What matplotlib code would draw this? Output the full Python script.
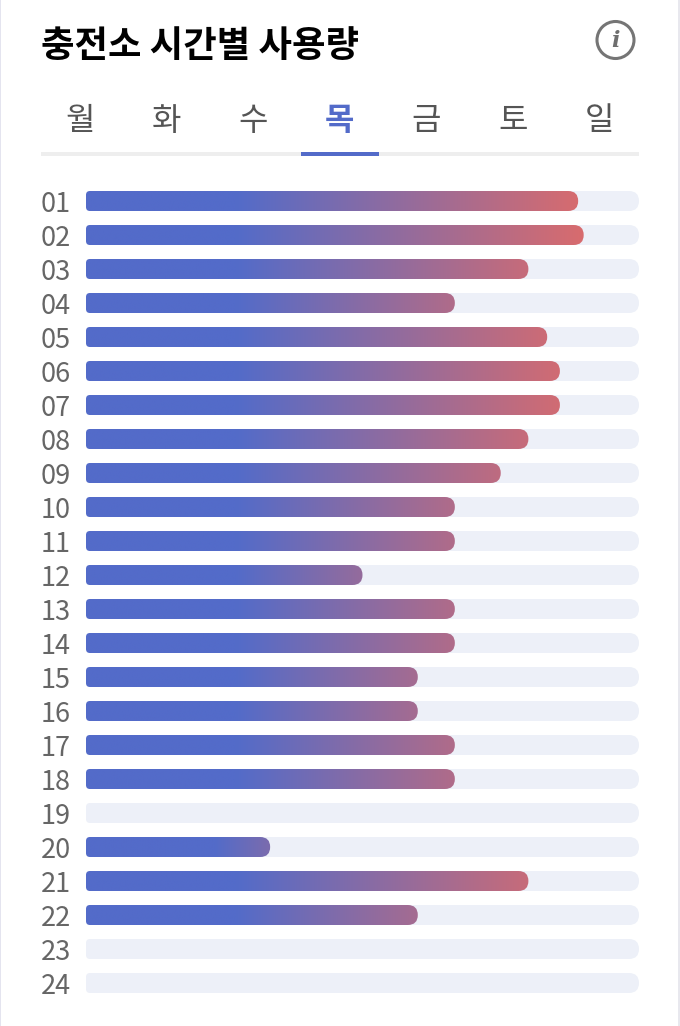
import numpy as np
from matplotlib import pyplot as plt
from matplotlib.path import Path
from matplotlib.patches import PathPatch, Circle, Rectangle
from matplotlib.colors import LinearSegmentedColormap

plt.rcParams['font.family'] = ['Noto Sans CJK KR', 'DejaVu Sans']

hours = ['01', '02', '03', '04', '05', '06', '07', '08', '09', '10', '11', '12',
         '13', '14', '15', '16', '17', '18', '19', '20', '21', '22', '23', '24']
usage = [89, 90, 80, 66.7, 83.4, 85.7, 85.7, 80, 75, 66.7, 66.7, 50,
         66.7, 66.7, 60, 60, 66.7, 66.7, 0, 33.3, 80, 60, 0, 0]
days = ['월', '화', '수', '목', '금', '토', '일']
selected_day = '목'
title = '충전소 시간별 사용량'

BLUE = np.array([0x53, 0x6b, 0xc9]) / 255
RED = np.array([0xd8, 0x6c, 0x6e]) / 255
TRACK = '#edf0f8'

W, H = 680, 1026
fig = plt.figure(figsize=(W / 100, H / 100), dpi=100)

# page overlay in pixel coords for the card, title and tabs
page = fig.add_axes([0, 0, 1, 1])
page.set_xlim(0, W)
page.set_ylim(H, 0)
page.axis('off')
page.add_patch(Rectangle((0, 0), 1, H, color='#e4e4ef', lw=0))
page.add_patch(Rectangle((678, 0), 2, H, color='#e8e8ee', lw=0))

page.text(41, 47, title, fontsize=26.2, fontweight='bold', color='black', va='center', ha='left')

# info icon
page.add_patch(Circle((615.5, 40), 18.5, fc='none', ec='#757575', lw=2.2))
page.text(615.5, 41, 'i', fontsize=16, family='DejaVu Serif', style='italic', fontweight='bold',
          color='#6e6e6e', ha='center', va='center')

# day tabs
page.add_patch(Rectangle((41, 152), 598, 4, color='#eeeeee', lw=0))
for i, d in enumerate(days):
    cx = 80 + i * 86.6
    on = d == selected_day
    page.text(cx, 121, d, fontsize=23, color='#536bc9' if on else '#555555',
              fontweight='bold' if on else 'normal', ha='center', va='center')
    if on:
        page.add_patch(Rectangle((301, 152), 78, 4, color='#536bc9', lw=0))

# bars
left, right, top, pitch = 86, 639, 184, 34
ax = fig.add_axes([left / W, 1 - (top + 24 * pitch) / H, (right - left) / W, 24 * pitch / H])
ax.set_xlim(0, 100)
ax.set_ylim(23.5, -0.5)
ax.axis('off')
ax.patch.set_alpha(0)

px = 100 / (right - left)
py = 1 / pitch
bar_h = 20 * py


def bar_path(y, val, r_left=4, r_right=10):
    x0, x1 = 0, val
    y0, y1 = y - bar_h / 2, y + bar_h / 2
    lx, ly = r_left * px, r_left * py
    rx, ry = r_right * px, r_right * py
    verts = [(x0 + lx, y0), (x1 - rx, y0), (x1, y0), (x1, y0 + ry), (x1, y1 - ry), (x1, y1), (x1 - rx, y1),
             (x0 + lx, y1), (x0, y1), (x0, y1 - ly), (x0, y0 + ly), (x0, y0), (x0 + lx, y0), (x0 + lx, y0)]
    codes = [Path.MOVETO, Path.LINETO, Path.CURVE3, Path.CURVE3, Path.LINETO, Path.CURVE3, Path.CURVE3,
             Path.LINETO, Path.CURVE3, Path.CURVE3, Path.LINETO, Path.CURVE3, Path.CURVE3, Path.CLOSEPOLY]
    return Path(verts, codes)


for i, (hour, val) in enumerate(zip(hours, usage)):
    ax.add_patch(PathPatch(bar_path(i, 100), fc=TRACK, ec='none', zorder=1))
    page.text(56, top + pitch * i + 20.5, hour, fontsize=19.5, color='#666666', ha='center', va='center')
    if val == 0:
        continue
    # end colour depends on how full the bar is; blue holds for about the first 150px
    end = BLUE + (RED - BLUE) * min((val / 90) ** 1.2, 1)
    hold = min(0.7, 150 * px / val)
    cmap = LinearSegmentedColormap.from_list('g', [(0, BLUE), (hold, BLUE), (1, end)])
    grad = np.linspace(0, 1, 256).reshape(1, -1)
    clip = PathPatch(bar_path(i, val), fc='none', ec='none', transform=ax.transData)
    ax.add_patch(clip)
    im = ax.imshow(grad, cmap=cmap, extent=[0, val, i + bar_h / 2, i - bar_h / 2],
                   aspect='auto', zorder=2, interpolation='bilinear', vmin=0, vmax=1)
    im.set_clip_path(clip)

ax.set_xlim(0, 100)
ax.set_ylim(23.5, -0.5)

fig.savefig('out.png', dpi=100)
